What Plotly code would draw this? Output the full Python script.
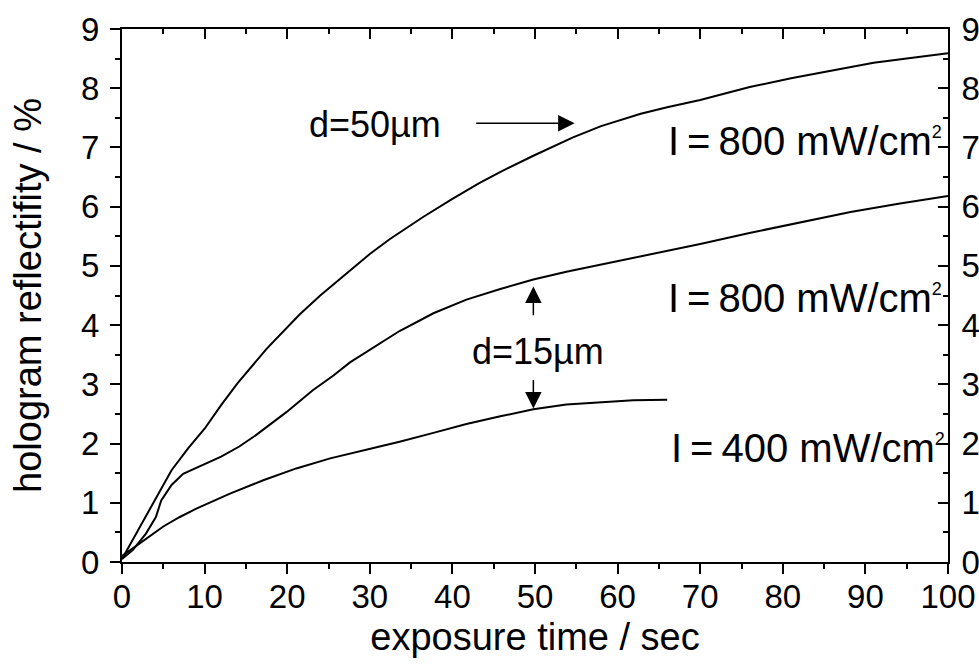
import plotly.graph_objects as go

# exposure time (s) and hologram reflectivity (%)
x_d50_800 = [0, 1, 2, 4, 6, 8, 10, 12, 14, 17.5, 21.5, 24, 27.6, 30, 32.4, 36.5, 40,
             43.3, 46, 49.8, 54.6, 58, 62.8, 66, 70, 76, 81, 85, 88.5, 91, 95, 100]
y_d50_800 = [0.05, 0.3, 0.55, 1.03, 1.55, 1.92, 2.25, 2.65, 3.02, 3.6, 4.18, 4.5, 4.92,
             5.2, 5.45, 5.83, 6.13, 6.40, 6.6, 6.86, 7.17, 7.36, 7.57, 7.68, 7.8, 8.02,
             8.17, 8.27, 8.37, 8.43, 8.5, 8.59]

x_d15_800 = [0, 1.3, 2.9, 4.1, 4.75, 6, 7.4, 10.2, 12, 14.2, 16.3, 17.9, 19.9, 23.1, 25.6,
             27.6, 30, 33.6, 37.7, 41.7, 45.8, 49.8, 53.8, 57.9, 61.1, 66, 70, 76.1, 82,
             88.2, 94, 100]
y_d15_800 = [0.05, 0.2, 0.48, 0.76, 1.04, 1.3, 1.49, 1.66, 1.78, 1.95, 2.15, 2.32, 2.53,
             2.9, 3.15, 3.37, 3.58, 3.90, 4.20, 4.43, 4.61, 4.77, 4.90, 5.02, 5.11, 5.25,
             5.37, 5.56, 5.73, 5.91, 6.05, 6.18]

x_d15_400 = [0, 2, 4, 5, 7, 9, 13, 17.1, 21.1, 25.2, 31.2, 33.6, 37.7, 41.7,
             45.8, 49.8, 53.8, 57.9, 61.9, 66]
y_d15_400 = [0.1, 0.3, 0.5, 0.6, 0.76, 0.9, 1.15, 1.38, 1.58, 1.75, 1.95, 2.03, 2.18,
             2.33, 2.46, 2.58, 2.66, 2.70, 2.73, 2.74]

x_ticks = [0, 10, 20, 30, 40, 50, 60, 70, 80, 90, 100]
y_ticks = [0, 1, 2, 3, 4, 5, 6, 7, 8, 9]

FONT = "Liberation Sans, Arial, sans-serif"
line = dict(color="black", width=2)

fig = go.Figure()
fig.add_trace(go.Scatter(x=x_d50_800, y=y_d50_800, mode="lines", line=line,
                         name="d=50µm, 800 mW/cm²"))
fig.add_trace(go.Scatter(x=x_d15_800, y=y_d15_800, mode="lines", line=line,
                         name="d=15µm, 800 mW/cm²"))
fig.add_trace(go.Scatter(x=x_d15_400, y=y_d15_400, mode="lines", line=line,
                         name="d=15µm, 400 mW/cm²", xaxis="x2", yaxis="y2"))

axis_common = dict(showline=True, linecolor="black", linewidth=2, showgrid=False,
                   zeroline=False, tickcolor="black", tickwidth=2, ticklen=10,
                   tickfont=dict(family=FONT, size=33, color="black"))

fig.update_layout(
    width=979, height=668,
    margin=dict(l=122, r=31, t=29, b=106),
    paper_bgcolor="white", plot_bgcolor="white",
    showlegend=False,
    xaxis=dict(range=[0, 100], tickvals=x_ticks, ticks="outside", ticklabelstandoff=-6,
               minor=dict(dtick=5, tick0=0, ticks="outside", ticklen=5, tickwidth=2, tickcolor="black"),
               title=dict(text="exposure time / sec", font=dict(family=FONT, size=38, color="black"),
                          standoff=10),
               automargin=False, **axis_common),
    yaxis=dict(range=[0, 9], tickvals=y_ticks, ticks="outside", ticklabelstandoff=4,
               minor=dict(dtick=0.5, tick0=0, ticks="outside", ticklen=5, tickwidth=2, tickcolor="black"),
               title=dict(text="hologram reflectifity / %", font=dict(family=FONT, size=38, color="black"),
                          standoff=28),
               automargin=False, **axis_common),
    xaxis2=dict(range=[0, 100], matches="x", overlaying="x", side="top", anchor="y2",
                tickvals=x_ticks, ticks="inside", showticklabels=False,
                minor=dict(dtick=5, tick0=0, ticks="inside", ticklen=5, tickwidth=2, tickcolor="black"),
                automargin=False, **axis_common),
    yaxis2=dict(range=[0, 9], matches="y", overlaying="y", side="right", anchor="x2",
                tickvals=y_ticks, ticks="inside", ticklabelstandoff=5,
                minor=dict(dtick=0.5, tick0=0, ticks="inside", ticklen=5, tickwidth=2, tickcolor="black"),
                automargin=False, **axis_common),
)

ann_font_big = dict(family=FONT, size=40, color="black")
ann_font_small = dict(family=FONT, size=36, color="black")
arrow_style = dict(showarrow=True, arrowhead=2, arrowsize=2.2, arrowwidth=1.5,
                   arrowcolor="black", standoff=0, startstandoff=0, axref="x", ayref="y", text="")

fig.add_annotation(x=30.6, y=7.38, text="d=50µm", showarrow=False, font=ann_font_small)
fig.add_annotation(x=54.8, y=7.41, ax=42.7, ay=7.41, **arrow_style)
fig.add_annotation(x=50.4, y=3.55, text="d=15µm", showarrow=False, font=ann_font_small)
fig.add_annotation(x=49.8, y=4.65, ax=49.8, ay=4.14, **arrow_style)
fig.add_annotation(x=49.8, y=2.59, ax=49.8, ay=3.10, **arrow_style)

sup2 = "<sup><span style='font-size:18px'>2</span></sup>"
fig.add_annotation(x=65.8, y=7.11, xanchor="left", text="I\u2009=\u2009800 mW/cm" + sup2,
                   showarrow=False, font=ann_font_big)
fig.add_annotation(x=65.8, y=4.45, xanchor="left", text="I\u2009=\u2009800 mW/cm" + sup2,
                   showarrow=False, font=ann_font_big)
fig.add_annotation(x=66.2, y=1.92, xanchor="left", text="I\u2009=\u2009400 mW/cm" + sup2,
                   showarrow=False, font=ann_font_big)

# remove the default page margin so the figure fills the 979x668 window exactly
fig.write_html("out.html", config={"displayModeBar": False},
               post_script="document.body.style.margin='0';document.body.style.overflow='hidden';")
